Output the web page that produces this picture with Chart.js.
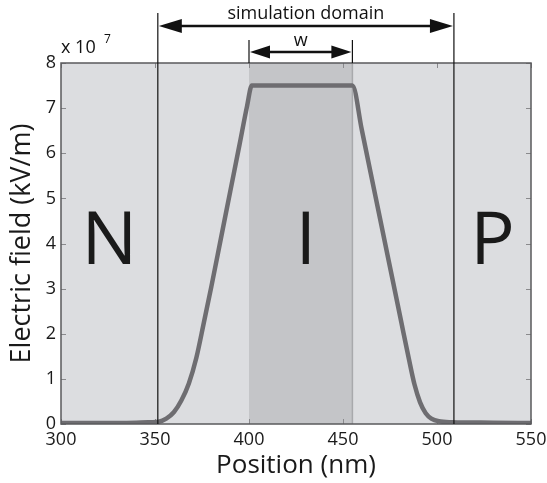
<!DOCTYPE html>
<html>
<head>
<meta charset="utf-8">
<script src="https://cdn.jsdelivr.net/npm/chart.js@4.4.1/dist/chart.umd.min.js"></script>
<style>
  html, body { margin: 0; padding: 0; background: #fff; }
  #wrap { width: 547px; height: 483px; }
</style>
</head>
<body>
<div id="wrap"><canvas id="fieldChart" width="547" height="483"></canvas></div>
<script>
// Electric field profile across the N-I-P junction (values in units of 1e7 kV/m)
const positions = [300, 340, 348, 352, 356, 360, 364, 368, 372, 376, 380, 385, 390, 395, 399, 401.5,
                   455, 460, 467, 474, 481, 485, 488, 491, 494, 497, 501, 508, 530, 550];
const field = [0.02, 0.03, 0.04, 0.05, 0.12, 0.26, 0.52, 0.9, 1.47, 2.25, 3.05, 4.1, 5.15, 6.2, 7.05, 7.5,
               7.5, 6.52, 5.1, 3.68, 2.26, 1.45, 0.88, 0.48, 0.24, 0.12, 0.06, 0.04, 0.03, 0.02];

const xTicks = [300, 350, 400, 450, 500, 550];
const yTicks = [0, 1, 2, 3, 4, 5, 6, 7, 8];

// boundaries (nm)
const domainEdges = [351.5, 509];   // simulation domain
const intrinsicEdges = [400, 455];  // w
const regionNames = ['N', 'I', 'P'];

const FONT = "'Open Sans', 'Noto Sans', sans-serif";

function arrow(ctx, x0, x1, y, head, half) {
    ctx.beginPath();
    ctx.moveTo(x0 + head - 2, y);
    ctx.lineTo(x1 - head + 2, y);
    ctx.stroke();
    ctx.beginPath();
    ctx.moveTo(x0, y);
    ctx.lineTo(x0 + head, y - half);
    ctx.lineTo(x0 + head, y + half);
    ctx.closePath();
    ctx.fill();
    ctx.beginPath();
    ctx.moveTo(x1, y);
    ctx.lineTo(x1 - head, y - half);
    ctx.lineTo(x1 - head, y + half);
    ctx.closePath();
    ctx.fill();
}

const decorations = {
    id: 'decorations',
    beforeDatasetsDraw(chart) {
        const { ctx, chartArea: a, scales: { x, y } } = chart;
        ctx.save();
        // plot background
        ctx.fillStyle = '#dcdde0';
        ctx.fillRect(a.left, a.top, a.width, a.height);
        // intrinsic region
        const w0 = x.getPixelForValue(intrinsicEdges[0]);
        const w1 = x.getPixelForValue(intrinsicEdges[1]);
        ctx.fillStyle = '#c4c5c8';
        ctx.fillRect(w0, a.top, w1 - w0, a.height);
        ctx.strokeStyle = '#a8a9ac';
        ctx.lineWidth = 1.5;
        ctx.beginPath();
        ctx.moveTo(w1, a.top);
        ctx.lineTo(w1, a.bottom);
        ctx.stroke();

        // inner tick marks
        ctx.strokeStyle = '#8a8a8d';
        ctx.lineWidth = 1;
        xTicks.forEach(v => {
            const px = Math.round(x.getPixelForValue(v)) + 0.5;
            ctx.beginPath();
            ctx.moveTo(px, a.bottom); ctx.lineTo(px, a.bottom - 5);
            ctx.moveTo(px, a.top); ctx.lineTo(px, a.top + 5);
            ctx.stroke();
        });
        yTicks.forEach(v => {
            const py = Math.round(y.getPixelForValue(v)) + 0.5;
            ctx.beginPath();
            ctx.moveTo(a.left, py); ctx.lineTo(a.left + 5, py);
            ctx.moveTo(a.right, py); ctx.lineTo(a.right - 5, py);
            ctx.stroke();
        });

        // region letters
        const bounds = [x.min, domainEdges[0], domainEdges[1], x.max];
        ctx.fillStyle = '#1a1a1a';
        ctx.font = '74px ' + FONT;
        ctx.textAlign = 'center';
        ctx.textBaseline = 'middle';
        regionNames.forEach((name, i) => {
            const cx = (x.getPixelForValue(bounds[i]) + x.getPixelForValue(bounds[i + 1])) / 2;
            ctx.fillText(name, cx, y.getPixelForValue(4) - 1);
        });
        ctx.restore();
    },
    afterDraw(chart) {
        const { ctx, chartArea: a, scales: { x } } = chart;
        ctx.save();
        // axes box
        ctx.strokeStyle = '#5a5a5c';
        ctx.lineWidth = 1.5;
        ctx.strokeRect(a.left, a.top, a.width, a.height);

        ctx.strokeStyle = '#111';
        ctx.fillStyle = '#111';
        // simulation domain lines + arrow
        const d0 = x.getPixelForValue(domainEdges[0]);
        const d1 = x.getPixelForValue(domainEdges[1]);
        ctx.lineWidth = 1.2;
        [d0, d1].forEach(px => {
            ctx.beginPath();
            ctx.moveTo(px, 13);
            ctx.lineTo(px, a.bottom);
            ctx.stroke();
        });
        ctx.lineWidth = 2.5;
        arrow(ctx, d0 + 1, d1 - 1, 26, 23, 7);

        // w lines + arrow
        const w0 = x.getPixelForValue(intrinsicEdges[0]);
        const w1 = x.getPixelForValue(intrinsicEdges[1]);
        ctx.lineWidth = 1.2;
        [w0, w1].forEach(px => {
            ctx.beginPath();
            ctx.moveTo(px, 40);
            ctx.lineTo(px, a.top);
            ctx.stroke();
        });
        ctx.lineWidth = 2.5;
        arrow(ctx, w0 + 1, w1 - 1, 52, 20, 6.5);

        // labels
        ctx.textAlign = 'center';
        ctx.textBaseline = 'middle';
        ctx.font = '18px ' + FONT;
        ctx.fillText('simulation domain', (d0 + d1) / 2, 14);
        ctx.fillText('w', (w0 + w1) / 2, 41);

        // exponent label
        ctx.textAlign = 'left';
        ctx.font = '18px ' + FONT;
        ctx.fillText('x 10', 61, 48);
        ctx.font = '12px ' + FONT;
        ctx.fillText('7', 104, 40);
        ctx.restore();
    }
};

new Chart(document.getElementById('fieldChart'), {
    type: 'line',
    data: {
        datasets: [{
            data: positions.map((p, i) => ({ x: p, y: field[i] })),
            borderColor: '#6e6d71',
            borderWidth: 4.5,
            pointRadius: 0,
            cubicInterpolationMode: 'monotone',
            fill: false
        }]
    },
    options: {
        responsive: false,
        animation: false,
        events: [],
        layout: { padding: { top: 63, right: 16, left: 0, bottom: 0 } },
        plugins: { legend: { display: false }, tooltip: { enabled: false } },
        scales: {
            x: {
                type: 'linear',
                min: 300,
                max: 550,
                afterFit: s => { s.height = 59; s.paddingLeft = 0; s.paddingRight = 0; },
                afterBuildTicks: s => { s.ticks = xTicks.map(v => ({ value: v })); },
                grid: { display: false, drawTicks: false },
                border: { display: false },
                ticks: { color: '#1a1a1a', font: { family: FONT, size: 18 }, padding: 5, maxRotation: 0 },
                title: {
                    display: true,
                    text: 'Position (nm)',
                    color: '#1a1a1a',
                    font: { family: FONT, size: 26 },
                    padding: { top: 0, bottom: 2 }
                }
            },
            y: {
                min: 0,
                max: 8,
                afterFit: s => { s.width = 61; s.paddingTop = 0; s.paddingBottom = 0; },
                afterBuildTicks: s => { s.ticks = yTicks.map(v => ({ value: v })); },
                grid: { display: false, drawTicks: false },
                border: { display: false },
                ticks: { color: '#1a1a1a', font: { family: FONT, size: 18 }, padding: 5 },
                title: {
                    display: true,
                    text: 'Electric field (kV/m)',
                    color: '#1a1a1a',
                    font: { family: FONT, size: 27 },
                    padding: { top: 6, bottom: 0 }
                }
            }
        }
    },
    plugins: [decorations]
});
</script>
</body>
</html>
